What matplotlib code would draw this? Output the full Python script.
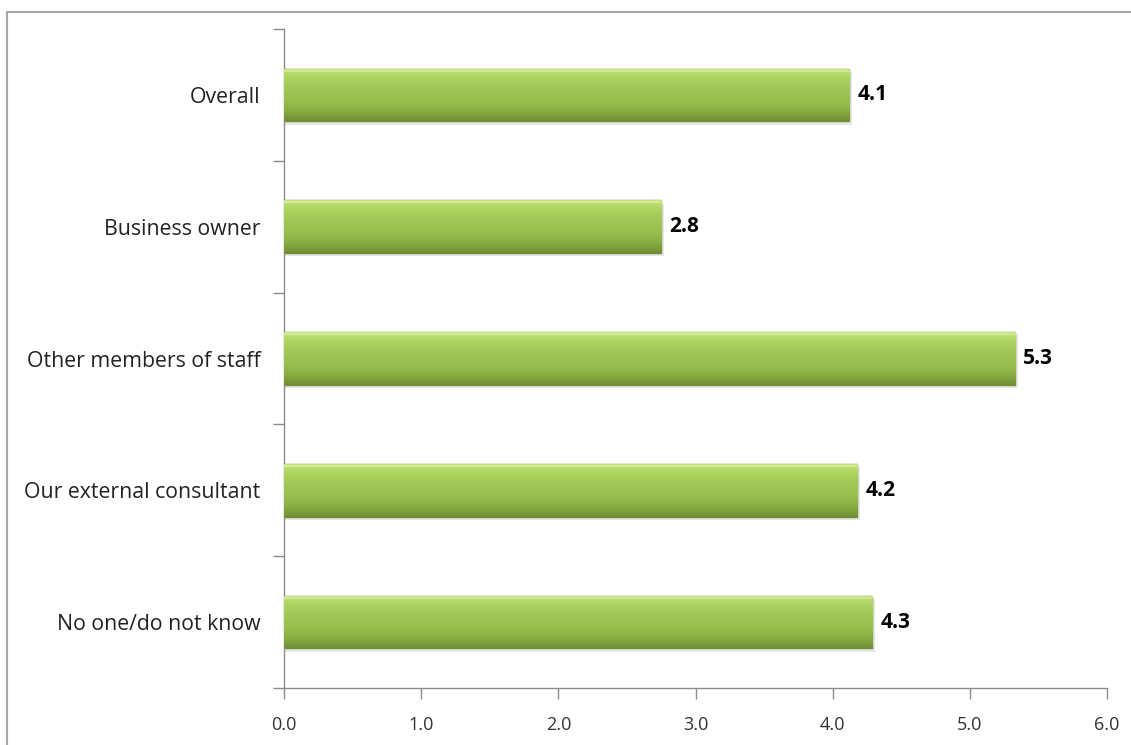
import matplotlib
matplotlib.use("Agg")
import matplotlib.pyplot as plt
from matplotlib.patches import Rectangle
import numpy as np

categories = ["Overall", "Business owner", "Other members of staff",
              "Our external consultant", "No one/do not know"]
values = [4.12, 2.75, 5.33, 4.18, 4.29]
labels = ["4.1", "2.8", "5.3", "4.2", "4.3"]
xticks = [0, 1, 2, 3, 4, 5, 6]

plt.rcParams['font.family'] = ['Open Sans', 'DejaVu Sans']

fig = plt.figure(figsize=(11.31, 7.45), dpi=100)
# outer chart border
fig.patches.append(Rectangle((7/1131, -0.1), 1.2, 1 - 12/745 + 0.1, transform=fig.transFigure,
                             fill=False, edgecolor='#a6a6a6', linewidth=1.5))

ax = fig.add_axes([284/1131, 1 - 688/745, 823/1131, 659/745])
ypos = np.arange(len(categories))[::-1]

# vertical gradient for the bars (row 0 = top)
grad = np.linspace(0, 1, 100).reshape(-1, 1)
cmap = matplotlib.colors.LinearSegmentedColormap.from_list(
    "g", ["#c4e37e", "#aed460", "#a2ca57", "#9cc352", "#95bb4c", "#86aa41", "#738f36"])

for y, v, lab in zip(ypos, values, labels):
    ax.barh(y - 0.025, v + 0.02, height=0.4, color='#bdbdbd', alpha=0.35, zorder=1)
    bar = ax.barh(y, v, height=0.4, color='#9cc452', edgecolor='#6f8f33',
                  linewidth=1.0, zorder=2)[0]
    im = ax.imshow(grad, cmap=cmap, aspect='auto', zorder=3, origin='upper',
                   extent=[0, v, y - 0.2, y + 0.2])
    im.set_clip_path(bar)
    ax.plot([0.01, v - 0.01], [y + 0.185, y + 0.185], color='#d4ec9f', lw=1.2, zorder=4)
    ax.text(v + 0.06, y, lab, va='center', ha='left', fontsize=15,
            fontweight='bold', color='black')

ax.set_xlim(0, 6)
ax.set_ylim(-0.5, len(categories) - 0.5)
ax.set_xticks(xticks)
ax.set_xticklabels([f"{t:.1f}" for t in xticks], fontsize=13, color='#333333')
ax.set_yticks(ypos)
ax.set_yticklabels(categories, fontsize=15.3, color='#222222')
ax.set_yticks(np.arange(-0.5, len(categories), 1.0), minor=True)
ax.tick_params(axis='y', which='major', length=0, pad=17)
ax.tick_params(axis='y', which='minor', length=8, color='#8c8c8c', width=1)
ax.tick_params(axis='x', length=8, color='#8c8c8c', width=1, pad=12)

for s in ['top', 'right']:
    ax.spines[s].set_visible(False)
for s in ['left', 'bottom']:
    ax.spines[s].set_color('#8c8c8c')
    ax.spines[s].set_linewidth(1)

fig.savefig("out.png", dpi=100)
